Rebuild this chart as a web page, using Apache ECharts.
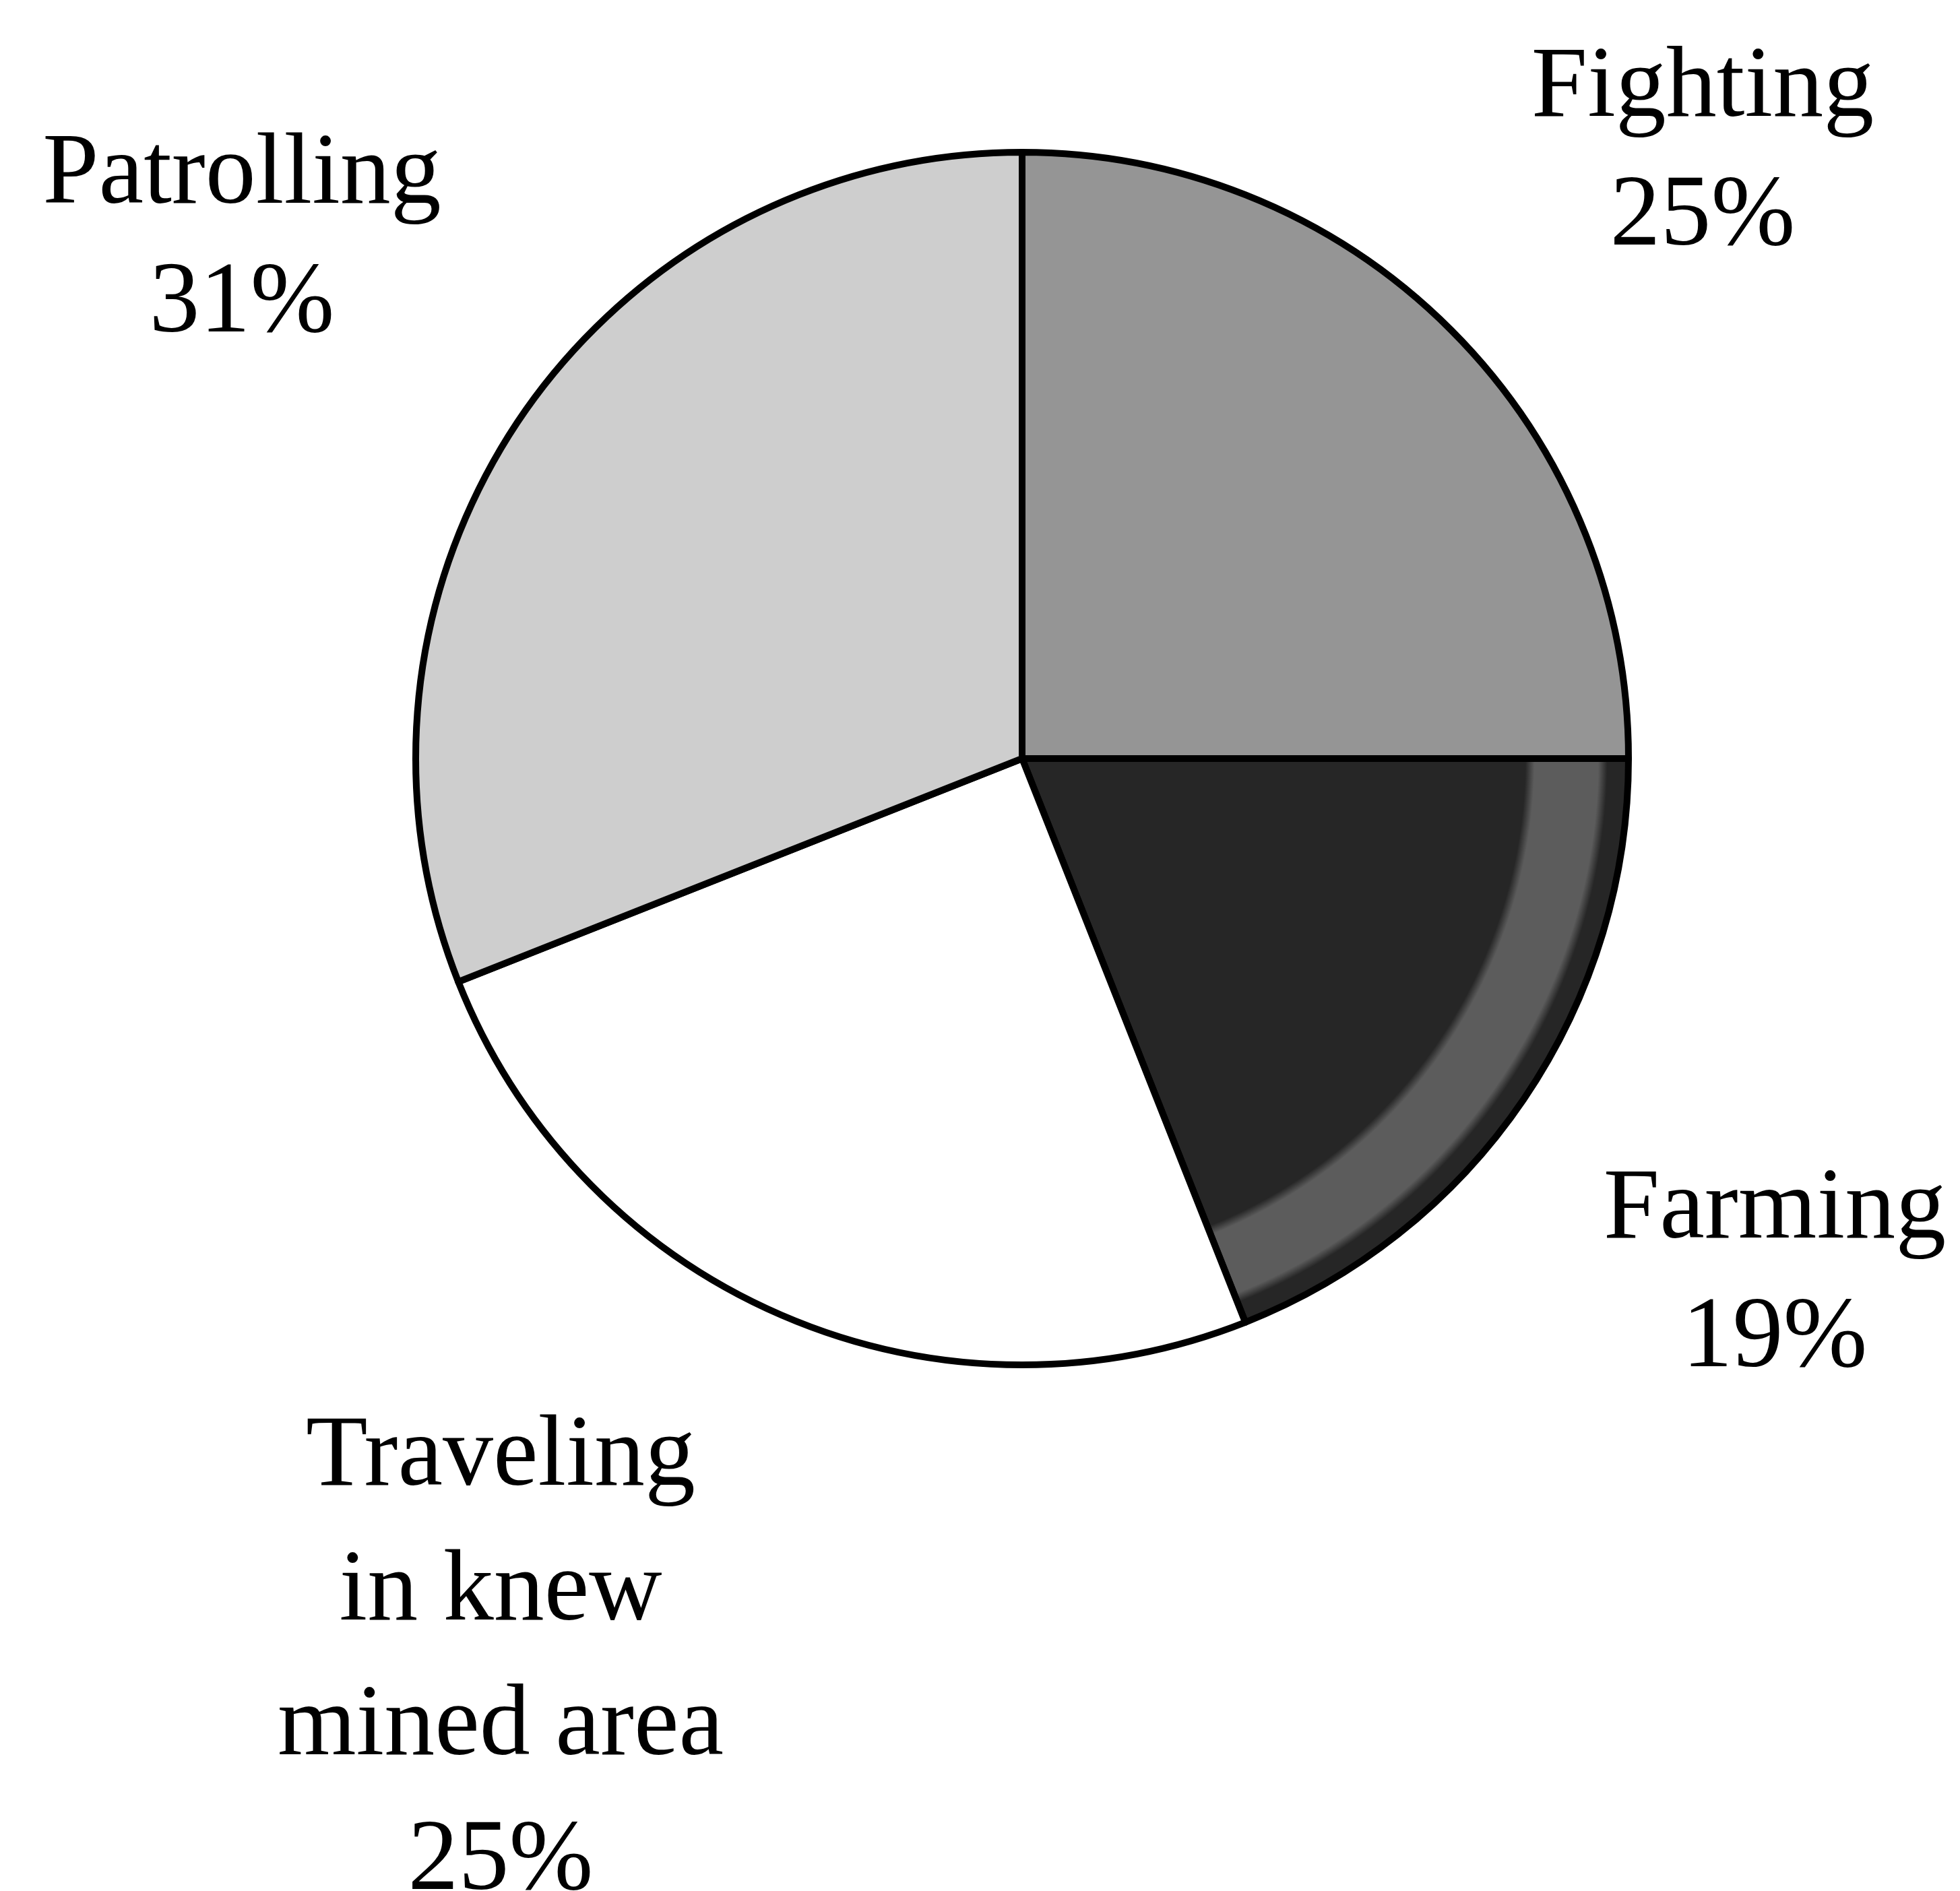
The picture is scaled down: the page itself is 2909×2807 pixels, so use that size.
<!DOCTYPE html>
<html>
<head>
<meta charset="utf-8">
<title>Pie</title>
<script src="https://cdn.jsdelivr.net/npm/echarts@6/dist/echarts.min.js"></script>
<style>
  html, body { margin: 0; padding: 0; background: #fff; }
  #chart { width: 2909px; height: 2807px; }
</style>
</head>
<body>
<div id="chart"></div>
<script>
// data
const categories = ["Fighting", "Farming", "Traveling\nin knew\nmined area", "Patrolling"];
const values = [25, 19, 25, 31];

// pie geometry
const pieCenter = [1517, 1126];
const pieRadius = 900;

// where each label block sits (center of the text block)
const labelSpots = [
  [2527, 228],
  [2634, 1893],
  [743, 2465],
  [359, 357]
];

// the dark slice has a lighter band near its rim in the scan
const farmingFill = {
  type: "radial",
  x: pieCenter[0],
  y: pieCenter[1],
  r: pieRadius,
  global: true,
  colorStops: [
    { offset: 0, color: "#262626" },
    { offset: 0.83, color: "#262626" },
    { offset: 0.845, color: "#5c5c5c" },
    { offset: 0.95, color: "#5c5c5c" },
    { offset: 0.965, color: "#262626" },
    { offset: 1, color: "#262626" }
  ]
};
const sliceColors = ["#959595", farmingFill, "#ffffff", "#cecece"];

const chart = echarts.init(document.getElementById("chart"));

const option = {
  animation: false,
  backgroundColor: "#fff",
  series: [
    {
      type: "pie",
      center: pieCenter,
      radius: [0, pieRadius],
      startAngle: 90,
      clockwise: true,
      avoidLabelOverlap: false,
      itemStyle: {
        borderColor: "#000",
        borderWidth: 10
      },
      label: {
        show: true,
        position: "outside",
        formatter: "{b}\n{c}%",
        fontFamily: "Liberation Serif",
        fontSize: 150,
        lineHeight: 191,
        color: "#000",
        align: "center"
      },
      labelLine: { show: false },
      labelLayout: function (params) {
        const p = labelSpots[params.dataIndex];
        return { x: p[0], y: p[1], align: "center", verticalAlign: "middle" };
      },
      data: categories.map(function (name, i) {
        const item = { name: name, value: values[i], itemStyle: { color: sliceColors[i] } };
        // the four-line label is spaced a little wider
        if (i === 2) item.label = { lineHeight: 200 };
        return item;
      })
    }
  ]
};

chart.setOption(option);
</script>
</body>
</html>
